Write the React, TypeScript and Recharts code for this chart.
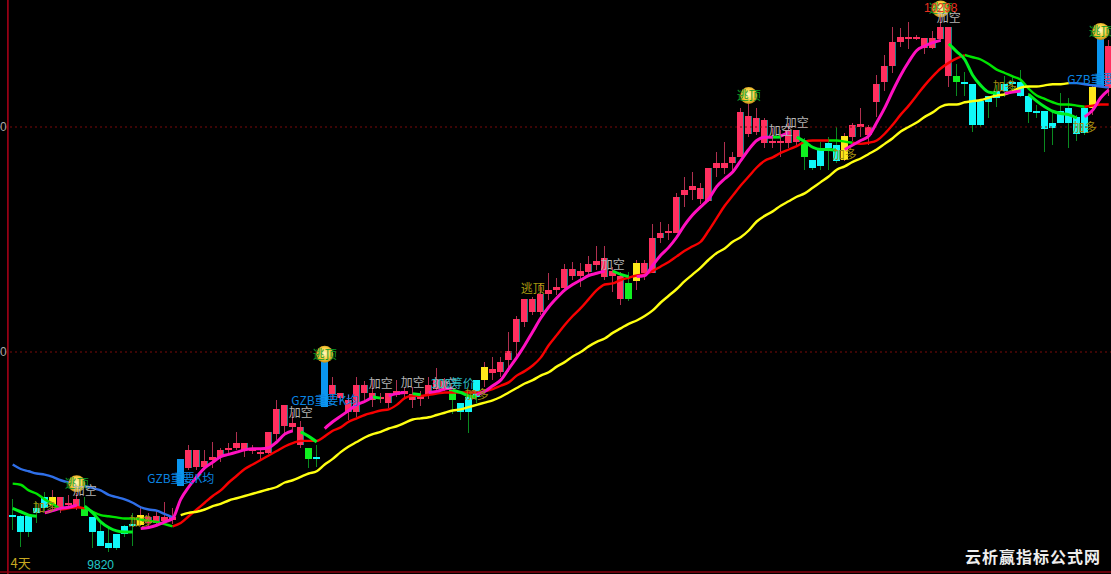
import { Bar, ComposedChart, Line, ReferenceDot, ReferenceLine, XAxis, YAxis } from 'recharts';

// candle type in runs: r up, c down, g warning down, y switch, b signal
const candleRuns: [string, number][] = [
  ['c', 5], ['y', 1], ['r', 3], ['g', 1], ['c', 6], ['y', 1], ['r', 4], ['b', 1], ['r', 15], ['g', 1], ['c', 1], ['b', 1],
  ['r', 15], ['g', 1], ['c', 3], ['y', 1], ['r', 17], ['g', 1], ['y', 1], ['r', 20], ['g', 1], ['c', 4], ['y', 1],
  ['r', 13], ['g', 1], ['c', 16], ['y', 1], ['b', 1], ['r', 1],
];
const candleKinds = candleRuns.flatMap(([kind, count]) => Array(count).fill(kind));

const opens = [
  9855, 9854, 9854, 9861, 9871, 9864, 9860, 9864, 9862, 9862, 9853, 9841, 9830, 9838, 9845, 9847,
  9846, 9848, 9848, 9850, 9851, 9881, 9897, 9898, 9898, 9904, 9907, 9913, 9915, 9913, 9912, 9910,
  9910, 9927, 9934, 9933, 9917, 9915, 9907, 9951, 9963, 9959, 9947, 9947, 9964, 9957, 9958, 9955,
  9962, 9963, 9957, 9958, 9962, 9967, 9966, 9966, 9955, 9960, 9975, 9975, 9981, 9982, 9993, 10009,
  10027, 10036, 10036, 10052, 10055, 10057, 10068, 10068, 10071, 10077, 10067, 10068, 10047, 10061, 10063, 10070,
  10070, 10101, 10106, 10106, 10140, 10144, 10136, 10134, 10164, 10164, 10168, 10173, 10194, 10196, 10186, 10186,
  10186, 10186, 10187, 10186, 10171, 10180, 10186, 10184, 10171, 10191, 10200, 10193, 10222, 10240, 10254, 10276,
  10278, 10278, 10270, 10270, 10278, 10245, 10245, 10240, 10238, 10223, 10228, 10232, 10238, 10240, 10240, 10228,
  10214, 10214, 10204, 10214, 10217, 10209, 10217, 10217, 10236, 10235,
];
const closes = [
  9854, 9840, 9840, 9857, 9861, 9871, 9871, 9866, 9869, 9854, 9840, 9828, 9826, 9826, 9838, 9845,
  9855, 9853, 9854, 9853, 9853, 9905, 9913, 9913, 9903, 9907, 9913, 9915, 9919, 9919, 9914, 9911,
  9929, 9949, 9953, 9937, 9933, 9905, 9905, 9991, 9971, 9964, 9957, 9971, 9971, 9964, 9960, 9964,
  9965, 9965, 9963, 9962, 9971, 9975, 9974, 9957, 9947, 9947, 9960, 9987, 9985, 9991, 10001, 10029,
  10047, 10047, 10052, 10055, 10058, 10074, 10074, 10072, 10078, 10081, 10084, 10072, 10068, 10047, 10079, 10079,
  10101, 10106, 10108, 10138, 10144, 10148, 10146, 10164, 10168, 10168, 10173, 10213, 10210, 10208, 10206, 10188,
  10188, 10197, 10197, 10173, 10164, 10165, 10181, 10170, 10192, 10202, 10203, 10200, 10238, 10254, 10276, 10280,
  10280, 10280, 10279, 10279, 10289, 10289, 10240, 10238, 10202, 10202, 10222, 10226, 10232, 10238, 10228, 10213,
  10213, 10198, 10199, 10204, 10204, 10194, 10195, 10236, 10279, 10272,
];
const highs = [
  9869, 9855, 9855, 9867, 9876, 9877, 9871, 9873, 9875, 9871, 9853, 9849, 9845, 9838, 9846, 9857,
  9862, 9857, 9859, 9867, 9861, 9905, 9917, 9913, 9913, 9920, 9915, 9919, 9929, 9919, 9917, 9915,
  9929, 9957, 9953, 9947, 9939, 9915, 9917, 9991, 9978, 9964, 9962, 9978, 9974, 9975, 9964, 9964,
  9975, 9968, 9969, 9965, 9978, 9986, 9977, 9966, 9955, 9960, 9975, 9991, 9996, 9996, 10018, 10032,
  10047, 10049, 10061, 10070, 10066, 10078, 10080, 10079, 10085, 10094, 10094, 10076, 10071, 10071, 10082, 10082,
  10114, 10116, 10114, 10141, 10156, 10160, 10150, 10164, 10178, 10187, 10178, 10217, 10221, 10217, 10208, 10199,
  10197, 10204, 10197, 10190, 10171, 10187, 10191, 10200, 10195, 10204, 10217, 10202, 10246, 10264, 10289, 10288,
  10293, 10282, 10279, 10285, 10298, 10289, 10256, 10249, 10238, 10223, 10228, 10237, 10245, 10245, 10251, 10230,
  10220, 10214, 10215, 10230, 10226, 10211, 10218, 10238, 10279, 10277,
];
const lows = [
  9842, 9827, 9836, 9848, 9858, 9860, 9857, 9861, 9860, 9854, 9826, 9828, 9822, 9824, 9836, 9828,
  9845, 9845, 9845, 9847, 9847, 9881, 9895, 9895, 9895, 9897, 9902, 9909, 9913, 9907, 9909, 9904,
  9909, 9922, 9928, 9929, 9915, 9897, 9898, 9951, 9957, 9955, 9940, 9942, 9957, 9951, 9955, 9950,
  9960, 9960, 9950, 9952, 9958, 9965, 9965, 9945, 9940, 9928, 9955, 9969, 9975, 9978, 9982, 9996,
  10022, 10033, 10033, 10046, 10051, 10053, 10064, 10058, 10067, 10073, 10064, 10053, 10042, 10045, 10055, 10064,
  10070, 10097, 10100, 10106, 10129, 10135, 10132, 10133, 10156, 10158, 10159, 10173, 10191, 10193, 10181, 10181,
  10173, 10181, 10182, 10162, 10162, 10162, 10162, 10168, 10170, 10188, 10191, 10184, 10209, 10232, 10248, 10271,
  10269, 10277, 10265, 10269, 10277, 10236, 10228, 10228, 10196, 10200, 10208, 10218, 10227, 10233, 10227, 10204,
  10208, 10178, 10184, 10204, 10181, 10188, 10193, 10211, 10236, 10228,
];

// moving averages, broken into runs of one colour: [first candle, values]
const fastGreen: [number, number[]][] = [
  [0, [9861, 9858, 9855, 9854]],
  [9, [9863, 9857, 9849, 9844, 9841, 9840, 9840]],
  [36, [9929, 9925, 9920]],
  [45, [9960, 9959]],
  [50, [9963, 9962]],
  [55, [9966, 9964, 9961, 9960]],
  [75, [10072, 10069, 10067]],
  [95, [10191, 10191]],
  [98, [10191, 10187, 10182, 10180, 10180, 10179]],
  [117, [10274, 10267, 10260, 10246, 10237, 10231, 10230]],
  [127, [10229, 10223, 10218, 10214, 10212, 10211, 10208]],
];
const fastPink: [number, number[]][] = [
  [4, [9857, 9859, 9861, 9862, 9864]],
  [16, [9843, 9844, 9846, 9849, 9852, 9869, 9880, 9889, 9897, 9902, 9907, 9909, 9911, 9913, 9914, 9914, 9915, 9920, 9927, 9930]],
  [39, [9932, 9938, 9943, 9948, 9953, 9956, 9960]],
  [47, [9961, 9963, 9964]],
  [52, [9964, 9965, 9967, 9968]],
  [58, [9962, 9965, 9970, 9975, 9985, 9995, 10006, 10018, 10030, 10040, 10048, 10055, 10060, 10064, 10068, 10070, 10072]],
  [78, [10067, 10068, 10077, 10086, 10093, 10102, 10113, 10122, 10129, 10136, 10147, 10154, 10160, 10170, 10180, 10188, 10191, 10191]],
  [96, [10192, 10195]],
  [104, [10180, 10184, 10188, 10192, 10204, 10217, 10232, 10246, 10258, 10268, 10272, 10275, 10277]],
  [124, [10230, 10231, 10232]],
  [134, [10209, 10215, 10226, 10233]],
];
const midGreen: [number, number[]][] = [
  [0, [9883, 9882, 9877, 9874, 9869, 9865, 9860]],
  [9, [9862, 9858, 9855, 9854, 9853, 9852, 9852, 9851, 9850, 9849, 9847, 9845]],
  [102, [10188, 10188, 10187, 10186]],
  [119, [10264, 10262, 10260, 10256, 10251, 10248, 10245, 10242, 10234, 10228, 10225, 10222, 10220, 10220, 10219, 10218]],
];
const midRed: [number, number[]][] = [
  [6, [9860, 9861, 9862, 9861]],
  [20, [
    9845, 9848, 9854, 9860, 9866, 9872, 9877, 9884, 9890, 9896, 9900, 9904, 9908, 9912, 9916, 9919, 9921, 9921, 9921,
    9925, 9930, 9933, 9938, 9941, 9944, 9946, 9948, 9949, 9953, 9959, 9961, 9961, 9962, 9963, 9964, 9964, 9964, 9964,
    9964, 9965, 9967, 9970, 9973, 9979, 9983, 9988, 9995, 10006, 10015, 10024, 10032, 10039, 10047, 10055, 10060,
    10061, 10064, 10066, 10068, 10069, 10072, 10076, 10080, 10085, 10090, 10094, 10098, 10108, 10119, 10130, 10139,
    10148, 10156, 10164, 10170, 10173, 10177, 10180, 10183, 10187, 10188, 10188, 10188,
  ]],
  [105, [10186, 10185, 10186, 10188, 10194, 10202, 10211, 10219, 10228, 10237, 10245, 10252, 10257, 10261, 10264]],
  [134, [10218, 10219, 10220, 10220]],
];
const longBlue: [number, number[]][] = [
  [0, [9900, 9896, 9894, 9892, 9891, 9889, 9886, 9884, 9883, 9881, 9879, 9877, 9873, 9871, 9869, 9866, 9862, 9860, 9859, 9856, 9853]],
  [132, [10239, 10239, 10238, 10237, 10236, 10235]],
];
const longYellow: [number, number[]][] = [
  [21, [
    9855, 9857, 9858, 9860, 9863, 9865, 9868, 9870, 9872, 9874, 9876, 9878, 9880, 9884, 9886, 9889, 9892, 9894, 9900,
    9905, 9911, 9916, 9920, 9924, 9927, 9929, 9932, 9934, 9937, 9940, 9941, 9942, 9944, 9946, 9948, 9949, 9951, 9953,
    9955, 9957, 9960, 9964, 9968, 9972, 9975, 9979, 9982, 9987, 9991, 9996, 10000, 10005, 10009, 10012, 10017, 10021,
    10025, 10028, 10032, 10037, 10044, 10050, 10056, 10063, 10069, 10075, 10082, 10088, 10092, 10098, 10102, 10108,
    10116, 10121, 10125, 10130, 10134, 10138, 10141, 10146, 10151, 10156, 10162, 10165, 10169, 10172, 10176, 10180,
    10185, 10190, 10196, 10200, 10204, 10209, 10213, 10218, 10220, 10220, 10222, 10223, 10224, 10226, 10228, 10229,
    10232, 10235, 10236, 10236, 10237, 10238, 10238, 10239,
  ]],
];

// signal text, anchored by candle index and price
const topBalls: [number, number][] = [[8, 9883], [39, 9998], [92, 10228], [116, 10305], [136, 10285]];
const addShort: [number, number][] = [[9, 9877], [36, 9946], [46, 9972], [50, 9973], [54, 9972], [75, 10078], [96, 10197], [98, 10204], [117, 10297]];
const addLong: [number, number][] = [[4, 9862], [16, 9849], [58, 9962], [104, 10175], [124, 10236], [134, 10199]];
const keyBars: [number, number][] = [[21, 9887], [39, 9957], [136, 10242]];
const gridPrices = [10000, 10200];

const FRAME_LEFT = -0.6;
const FRAME_BOTTOM = 9804.5;

const seriesGroups = [
  { name: 'midGreen', pieces: midGreen, color: '#00e400', width: 2.4 },
  { name: 'midRed', pieces: midRed, color: '#f80000', width: 2.4 },
  { name: 'longBlue', pieces: longBlue, color: '#2f6fe8', width: 2.4 },
  { name: 'longYellow', pieces: longYellow, color: '#ffff10', width: 2.4 },
  { name: 'fastGreen', pieces: fastGreen, color: '#00f020', width: 3 },
  { name: 'fastPink', pieces: fastPink, color: '#ff10c0', width: 3 },
];

const tableRows: Record<string, any>[] = opens.map((open, i) => ({
  i,
  open,
  close: closes[i],
  high: highs[i],
  low: lows[i],
  range: [lows[i], highs[i]],
  kind: candleKinds[i],
}));
const lineKeys: { key: string; color: string; width: number }[] = [];
seriesGroups.forEach((group) => {
  group.pieces.forEach(([start, values], n) => {
    const key = `${group.name}${n}`;
    lineKeys.push({ key, color: group.color, width: group.width });
    values.forEach((v, k) => {
      tableRows[start + k][key] = v;
    });
  });
});

const bodyFill: Record<string, string> = {
  r: '#ff2f5f',
  c: '#10f8f8',
  g: '#10f020',
  y: '#ffe81a',
  b: '#0a96f0',
};
const wickFill: Record<string, string> = {
  r: '#b03050',
  c: '#0a8a20',
  g: '#0a8a20',
  y: '#b03050',
  b: '#0a96f0',
};

function Candle(props: any) {
  const { x, y, width, height, payload } = props;
  const { high, low, open, close, kind } = payload;
  const toY = (v: number) => y + ((high - v) / (high - low || 1)) * height;
  const top = toY(Math.max(open, close));
  const bottom = toY(Math.min(open, close));
  const mid = x + width / 2;
  return (
    <g shapeRendering="crispEdges">
      <rect x={mid - 0.5} y={y} width={1} height={height} fill={wickFill[kind]} />
      <rect x={x} y={top} width={width} height={Math.max(bottom - top, 2)} fill={bodyFill[kind]} />
      {kind === 'r' && bottom - top > 5 && (
        <rect x={x + width - 1} y={top} width={1} height={bottom - top} fill="#1f7f86" />
      )}
    </g>
  );
}

function label(value: string, fill: string, fontSize = 12, fontFamily = '"Noto Sans CJK SC"') {
  return { value, fill, fontSize, fontFamily, position: 'center' as const };
}

function Ball(props: any) {
  return (
    <g>
      <circle cx={props.cx} cy={props.cy} r={8.5} fill="url(#ballFill)" />
    </g>
  );
}

function Note({ at, text }: { at: [number, number]; text: any }) {
  return <ReferenceDot x={at[0]} y={at[1]} r={0} fillOpacity={0} strokeOpacity={0} label={text} />;
}

export default function App() {
  return (
    <div style={{ position: 'absolute', left: 0, top: 0, width: 1111, height: 574, background: '#000', overflow: 'hidden' }}>
      <ComposedChart width={1111} height={574} data={tableRows} margin={{ top: 0, right: 0, bottom: 0, left: 0 }}>
        <defs>
          <radialGradient id="ballFill" cx="50%" cy="45%" r="55%">
            <stop offset="0%" stopColor="#fff8c0" />
            <stop offset="60%" stopColor="#ffd040" />
            <stop offset="100%" stopColor="#c08c14" />
          </radialGradient>
        </defs>
        <XAxis dataKey="i" type="number" domain={[-1.5875, 137.2875]} hide />
        <YAxis type="number" domain={[9802.67, 10312.89]} hide width={0} />

        {gridPrices.map((p) => (
          <ReferenceLine
            key={p}
            y={p}
            stroke="#7a0a0a"
            strokeDasharray="2 3"
            label={{ value: '0', position: 'insideLeft', fill: '#a8a8a8', fontSize: 12, fontFamily: 'Liberation Sans', dx: -5 }}
          />
        ))}
        <ReferenceLine x={FRAME_LEFT} stroke="#b00018" strokeWidth={1.5} />
        <ReferenceLine y={FRAME_BOTTOM} stroke="#8a0010" strokeWidth={1.5} />

        <Bar dataKey="range" barSize={7} shape={<Candle />} isAnimationActive={false} />

        {lineKeys.map((l) => (
          <Line
            key={l.key}
            dataKey={l.key}
            stroke={l.color}
            strokeWidth={l.width}
            dot={false}
            activeDot={false}
            type="monotone"
            legendType="none"
            isAnimationActive={false}
          />
        ))}

        {topBalls.map((b) => (
          <ReferenceDot key={`ball${b[0]}`} x={b[0]} y={b[1]} r={8} shape={<Ball />} label={label('逃顶', '#0c9a28')} />
        ))}
        {addShort.map((a) => (
          <Note key={`short${a[0]}`} at={a} text={label('加空', '#b4b4b4')} />
        ))}
        {addLong.map((a) => (
          <Note key={`long${a[0]}`} at={a} text={label('加多', '#a08c10')} />
        ))}
        {keyBars.map((a) => (
          <Note key={`key${a[0]}`} at={a} text={label('GZB重要K均', '#0a84e0')} />
        ))}
        <Note at={[65, 10056]} text={label('逃顶', '#a89a10')} />
        <Note at={[55, 9972]} text={label('300筹价', '#28b8c0')} />
        <Note at={[11, 9811]} text={label('9820', '#20c8c8', 12, 'Liberation Sans')} />
        <Note at={[1, 9812]} text={label('4天', '#c8a820', 13)} />
        <Note at={[116, 10306]} text={label('10298', '#e83020', 12, 'Liberation Sans')} />
      </ComposedChart>
      <div
        style={{
          position: 'absolute',
          left: 965,
          top: 546,
          width: 140,
          color: '#eeeeee',
          fontFamily: '"Noto Sans CJK SC"',
          fontWeight: 700,
          fontSize: 16,
          letterSpacing: 1,
          lineHeight: '20px',
          whiteSpace: 'nowrap',
        }}
      >
        云析赢指标公式网
      </div>
    </div>
  );
}
